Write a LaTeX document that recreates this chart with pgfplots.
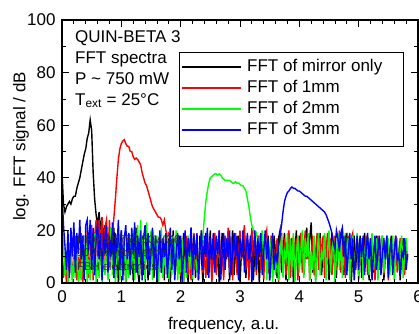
\documentclass[border=0pt]{standalone}
\usepackage{fontspec}
\setmainfont{Liberation Sans}
\usepackage{pgfplots}
\usepackage{pgfplotstable}
\pgfplotsset{compat=1.18}
\definecolor{cred}{RGB}{255,0,0}
\definecolor{cgreen}{RGB}{0,255,0}
\definecolor{cblue}{RGB}{0,0,255}
\pgfplotstableread{
x k r g b
0.000 42 12 24 35
0.025 30 2 14 22
0.050 27 9 3 14
0.075 29 0 10 5
0.100 30 11 0 20
0.125 31 3 4 2
0.150 30 17 12 21
0.175 32 1 0 10
0.200 33 9 9 23
0.225 33 18 2 4
0.250 36 1 17 19
0.275 38 10 0 11
0.300 40 4 5 24
0.325 43 19 1 9
0.350 46 0 11 18
0.375 49 12 3 1
0.400 51 5 18 22
0.425 55 20 0 24
0.450 57 2 9 12
0.475 62 11 1 24
0.500 58 22 12 5
0.525 42 1 4 21
0.550 32 18 19 3
0.575 26 24 0 17
0.600 22 9 10 23
0.625 27 24 2 9
0.650 20 12 17 19
0.675 25 25 0 1
0.700 17 5 9 20
0.725 22 21 3 11
0.750 12 24 18 22
0.775 18 10 1 4
0.800 6 24 11 18
0.825 18 12 21 10
0.850 9 18 3 23
0.875 21 25 12 2
0.900 2 32 0 19
0.925 17 40 9 12
0.950 0 47 19 24
0.975 11 51 1 5
1.000 20 53 11 20
1.025 3 54 4 1
1.050 12 54.5 18 17
1.075 0 53 0 22
1.100 10 52 10 9
1.125 19 52 2 19
1.150 4 50 17 3
1.175 17 50 5 21
1.200 1 48 20 11
1.225 11 47 1 23
1.250 21 47.5 12 4
1.275 5 47 22 18
1.300 0 46 3 10
1.325 12 45 24 20
1.350 18 42 9 1
1.375 3 40 19 17
1.400 10 38 0 22
1.425 19 37 23 9
1.450 1 35 11 19
1.475 12 33 4 3
1.500 9 31 20 12
1.525 20 29 1 21
1.550 2 28 17 5
1.575 17 27 5 18
1.600 0 26 18 1
1.625 11 25 0 11
1.650 18 25 10 20
1.675 4 24 21 4
1.700 12 22 2 17
1.725 1 24 12 10
1.750 19 20 5 19
1.775 9 18 19 2
1.800 17 19 1 12
1.825 0 14 11 21
1.850 11 16 3 5
1.875 20 12 18 17
1.900 3 10 9 1
1.925 12 13 20 11
1.950 5 4 1 19
1.975 18 11 12 9
2.000 1 2 4 18
2.025 10 17 17 0
2.050 19 0 0 12
2.075 4 10 10 20
2.100 12 18 2 4
2.125 0 3 18 17
2.150 11 12 5 10
2.175 21 1 12 21
2.200 9 11 1 3
2.225 17 19 11 18
2.250 2 5 10 9
2.275 12 17 5 19
2.300 4 1 8 1
2.325 18 12 12 12
2.350 10 20 14 20
2.375 0 4 18 5
2.400 12 11 25 18
2.425 19 2 31 10
2.450 3 18 35 21
2.475 11 9 38 2
2.500 20 17 40 17
2.525 1 0 40.5 9
2.550 10 12 41 19
2.575 17 19 41.5 4
2.600 5 3 41.5 18
2.625 12 11 41 11
2.650 0 20 41.5 20
2.675 11 5 41 1
2.700 19 12 40 12
2.725 4 1 39.5 19
2.750 17 18 39 5
2.775 9 10 39 17
2.800 18 21 39 10
2.825 1 4 39 20
2.850 11 17 38.5 3
2.875 20 1 38 12
2.900 3 12 38 19
2.925 12 19 38.5 9
2.950 9 3 38 18
2.975 18 11 38 1
3.000 0 20 37.5 17
3.025 12 9 37 10
3.050 10 17 37 20
3.075 19 22 36 4
3.100 2 5 35 12
3.125 17 18 32 19
3.150 5 1 29 9
3.175 11 12 25 18
3.200 20 21 22 0
3.225 1 9 20 11
3.250 12 19 18 20
3.275 9 3 19 5
3.300 18 11 16 17
3.325 0 18 17 10
3.350 11 5 13 19
3.375 19 12 20 3
3.400 4 1 9 12
3.425 17 17 18 20
3.450 10 20 1 9
3.475 18 4 12 17
3.500 1 11 4 1
3.525 12 18 17 11
3.550 5 2 0 19
3.575 18 12 10 5
3.600 11 9 3 12
3.625 2 17 12 8
3.650 17 0 1 14
3.675 20 11 11 18
3.700 4 19 18 22
3.725 12 5 2 27
3.750 19 17 12 31
3.775 1 3 9 33
3.800 11 12 19 34.5
3.825 18 20 1 35
3.850 9 2 17 36
3.875 17 11 5 36.5
3.900 0 18 19 36
3.925 12 9 0 36
3.950 20 17 11 35.5
3.975 5 1 18 35
4.000 18 12 4 35
4.025 10 19 12 34.5
4.050 19 4 20 34
4.075 3 12 2 33.5
4.100 12 20 17 33
4.125 21 9 10 33
4.150 9 17 19 32.5
4.175 17 1 1 32
4.200 23 11 12 31.5
4.225 4 18 5 31
4.250 12 3 18 30.5
4.275 1 12 0 30
4.300 17 19 11 29.5
4.325 10 5 19 29
4.350 19 17 3 28.5
4.375 3 10 12 28
4.400 12 18 9 27.5
4.425 18 2 19 27
4.450 5 12 1 26
4.475 17 19 12 24.5
4.500 1 9 20 23
4.525 11 17 4 21
4.550 19 3 12 19
4.575 9 12 18 15
4.600 12 18 0 13
4.625 2 5 11 20
4.650 18 12 19 17
4.675 10 20 5 12
4.700 17 4 17 19
4.725 20 12 2 21
4.750 3 18 12 10
4.775 12 2 19 18
4.800 19 11 9 3
4.825 9 18 17 12
4.850 17 5 1 19
4.875 0 17 11 9
4.900 11 19 18 17
4.925 18 3 4 1
4.950 5 12 12 11
4.975 17 18 19 18
5.000 10 1 2 5
5.025 18 11 11 17
5.050 2 17 17 10
5.075 12 5 1 18
5.100 19 12 12 3
5.125 9 18 9 12
5.150 17 3 18 19
5.175 1 11 3 9
5.200 11 17 12 17
5.225 18 9 19 1
5.250 4 12 5 11
5.275 12 1 11 18
5.300 18 11 17 5
5.325 3 18 1 12
5.350 17 5 12 18
5.375 10 12 9 3
5.400 18 17 18 11
5.425 1 3 4 17
5.450 11 12 12 9
5.475 17 18 10 18
5.500 5 1 17 2
5.525 12 11 3 12
5.550 18 17 12 17
5.575 3 5 18 4
5.600 11 12 1 12
5.625 17 18 11 18
5.650 9 4 17 9
5.675 12 11 5 11
5.700 1 17 12 3
5.725 11 9 18 12
5.750 17 12 2 10
5.775 5 3 11 17
5.800 12 11 17 5
5.825 10 9 9 11
}\fft

\begin{document}
\begin{tikzpicture}[font=\fontsize{17}{20}\selectfont]
\path[use as bounding box] (-62pt,-50pt) rectangle (357pt,283pt);
\begin{axis}[
  at={(0pt,0pt)}, anchor=south west,
  scale only axis, width=356pt, height=263pt,
  xmin=0, xmax=6, ymin=0, ymax=100,
  xtick={0,1,2,3,4,5,6}, ytick={0,20,40,60,80,100},
  minor x tick num=4, minor y tick num=1,
  tick align=inside, major tick length=7pt, minor tick length=4pt,
  tick style={black, line width=0.8pt},
  axis line style={line width=1.2pt},
  axis on top,
  /pgf/number format/assume math mode=true,
  tick label style={font=\fontsize{17}{20}\selectfont},
  xticklabel style={yshift=-4pt},
  yticklabel style={xshift=-3pt},
  xlabel={frequency, a.u.},
  ylabel={log. FFT signal / dB},
  xlabel style={at={(axis description cs:0.454,0)}, anchor=base, yshift=-46pt, font=\fontsize{17}{20}\selectfont},
  ylabel style={at={(axis description cs:-0.115,0.519)}, anchor=center, font=\fontsize{17}{20}\selectfont},
  legend style={at={(axis description cs:0.3287,0.8800)}, anchor=north west, draw=black,
    inner xsep=2pt, inner ysep=5pt, row sep=0pt,
    nodes={inner xsep=1pt, inner ysep=2pt, text height=12.5pt, text depth=4.5pt},
    font=\fontsize{17}{20}\selectfont},
  legend cell align=left,
  legend image code/.code={\draw[#1, line width=2pt] (0pt,0pt) -- (59pt,0pt);},
]
\addplot[black, line width=1.4pt] table[x=x, y=k] {\fft};
\addlegendentry{\makebox[157pt][l]{\hspace{4pt}FFT of mirror only}}
\addplot[cred, line width=1.4pt] table[x=x, y=r] {\fft};
\addlegendentry{\makebox[157pt][l]{\hspace{4pt}FFT of 1mm}}
\addplot[cgreen, line width=1.4pt] table[x=x, y=g] {\fft};
\addlegendentry{\makebox[157pt][l]{\hspace{4pt}FFT of 2mm}}
\addplot[cblue, line width=1.4pt] table[x=x, y=b] {\fft};
\addlegendentry{\makebox[157pt][l]{\hspace{4pt}FFT of 3mm}}
\end{axis}
\begin{scope}[font=\fontsize{11.3}{13}\selectfont, text=black!80]
\node[anchor=base west, inner sep=0pt] at (15pt,40pt) {HR6-SN750-50WG6};
\node[anchor=base west, inner sep=0pt] at (15pt,26.5pt) {100ms integration};
\node[anchor=base west, inner sep=0pt] at (15pt,13pt) {FBH electronics};
\end{scope}
\node[anchor=base west, inner sep=0pt] at (13pt,241pt) {QUIN-BETA 3};
\node[anchor=base west, inner sep=0pt] at (13pt,220pt) {FFT spectra};
\node[anchor=base west, inner sep=0pt] at (13pt,199pt) {P \textasciitilde{} 750 mW};
\node[anchor=base west, inner sep=0pt] at (13pt,178pt) {T\textsubscript{ext} = 25°C};
\end{tikzpicture}
\end{document}
